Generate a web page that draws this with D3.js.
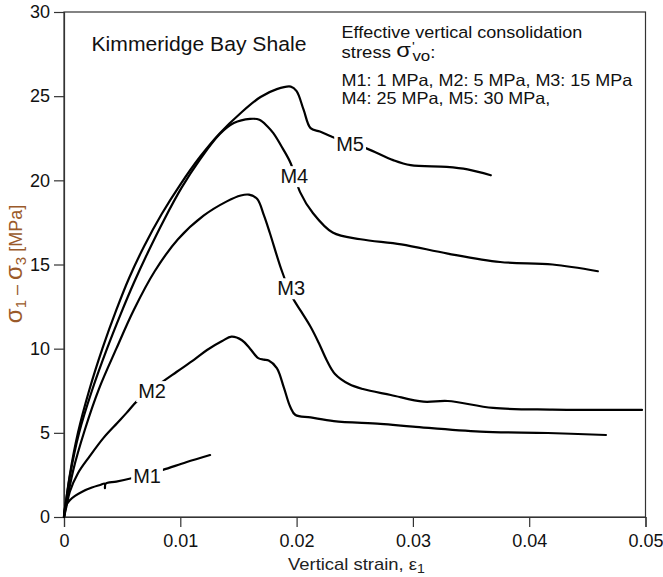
<!DOCTYPE html>
<html><head><meta charset="utf-8">
<script src="https://cdn.jsdelivr.net/npm/d3@7"></script>
<style>
body{margin:0;background:#fff}
text{font-family:"Liberation Sans",Arial,Helvetica,sans-serif}
</style>
</head><body>
<svg id="c" width="663" height="577"></svg>
<script>
// ---- data ----
const xTicks = [0, 0.01, 0.02, 0.03, 0.04, 0.05];
const xTickLabels = ["0", "0.01", "0.02", "0.03", "0.04", "0.05"];
const yTicks = [0, 5, 10, 15, 20, 25, 30];
const yTickLabels = ["0", "5", "10", "15", "20", "25", "30"];
const seriesNames = ["M1", "M2", "M3", "M4", "M5"];

const m1 = [[0,0],[0.0001,0.6],[0.0005,1.0],[0.00095,1.25],[0.0016,1.52],[0.0024,1.75],[0.0031,1.9],[0.0035,1.98],[0.00352,1.72],[0.00358,1.98],[0.0045,2.1],[0.0058,2.3],[0.0072,2.55],[0.0085,2.8],[0.0105,3.25],[0.01256,3.68]];
const m2 = [[0,0],[0.0002,0.6],[0.0005,1.5],[0.0012,2.6],[0.0022,3.6],[0.0034,4.7],[0.0046,5.6],[0.0054,6.2],[0.0063,6.9],[0.0078,7.7],[0.0097,8.63],[0.0112,9.35],[0.0123,9.92],[0.0136,10.45],[0.0144,10.71],[0.0153,10.5],[0.016,10.0],[0.0167,9.44],[0.0172,9.35],[0.0176,9.3],[0.0183,8.85],[0.0189,7.7],[0.01945,6.55],[0.0199,6.06],[0.0212,5.92],[0.0232,5.7],[0.0272,5.53],[0.030,5.37],[0.0358,5.07],[0.0416,4.99],[0.0466,4.87]];
const m3 = [[0,0],[0.0008,2.8],[0.0018,5.2],[0.003,7.6],[0.0045,10.0],[0.006,12.3],[0.0078,14.6],[0.0098,16.5],[0.012,17.9],[0.014,18.75],[0.0152,19.1],[0.0159,19.15],[0.0166,18.9],[0.0172,17.9],[0.0177,16.87],[0.0187,14.68],[0.0196,13.1],[0.0204,12.2],[0.0212,11.3],[0.0219,10.35],[0.0226,9.3],[0.0233,8.5],[0.0245,7.9],[0.0257,7.6],[0.0281,7.25],[0.0309,6.85],[0.033,6.89],[0.0369,6.48],[0.042,6.38],[0.0472,6.36],[0.0497,6.36]];
const m4 = [[0,0],[0.0005,2.4],[0.0013,5.0],[0.0024,7.5],[0.0037,10.0],[0.0049,12.1],[0.006,13.9],[0.0072,15.7],[0.0086,17.65],[0.0101,19.55],[0.0117,21.25],[0.0134,22.75],[0.0146,23.4],[0.016,23.65],[0.0168,23.6],[0.0175,23.2],[0.018,22.8],[0.0188,21.9],[0.0195,21.0],[0.0203,19.3],[0.0214,18.06],[0.0231,16.9],[0.0255,16.5],[0.029,16.2],[0.033,15.65],[0.0375,15.15],[0.042,15.0],[0.0459,14.6]];
const m5 = [[0,0],[0.0005,2.5],[0.0012,5.0],[0.0022,7.6],[0.0033,10.0],[0.0045,12.3],[0.0056,14.2],[0.0069,16.1],[0.0084,18.0],[0.01,19.75],[0.0117,21.4],[0.0134,22.8],[0.0152,24.0],[0.0169,24.95],[0.0183,25.42],[0.0195,25.57],[0.02,25.3],[0.0206,24.2],[0.0212,23.1],[0.022,22.9],[0.023,22.6],[0.0245,22.2],[0.026,21.9],[0.0283,21.2],[0.0298,20.9],[0.0329,20.8],[0.0347,20.65],[0.0367,20.3]];
const seriesData = [m1, m2, m3, m4, m5];
const labelPos = [[0.00714,2.44],[0.00757,7.49],[0.01953,13.6],[0.0198,20.26],[0.0246,22.16]];

const titleText = "Kimmeridge Bay Shale";
const legendLine1 = "Effective vertical consolidation";
const legendLine3 = "M1: 1 MPa, M2: 5 MPa, M3: 15 MPa";
const legendLine4 = "M4: 25 MPa, M5: 30 MPa,";

// ---- chart ----
const svg = d3.select("#c");
const x = d3.scaleLinear().domain([0, 0.05]).range([64, 645.5]);
const y = d3.scaleLinear().domain([0, 30]).range([517, 12]);

// frame
svg.append("rect").attr("x", x(0)).attr("y", y(30))
  .attr("width", x(0.05) - x(0)).attr("height", y(0) - y(30))
  .attr("fill", "none").attr("stroke", "#333").attr("stroke-width", 1.2);

const ax = svg.append("g").attr("transform", `translate(0,${y(0)})`)
  .call(d3.axisBottom(x).tickValues(xTicks).tickFormat((d,i)=>xTickLabels[i]).tickSize(10).tickPadding(7));
const ay = svg.append("g").attr("transform", `translate(${x(0)},0)`)
  .call(d3.axisLeft(y).tickValues(yTicks).tickFormat((d,i)=>yTickLabels[i]).tickSize(10).tickPadding(4));
[ax, ay].forEach(g => {
  g.select(".domain").attr("stroke", "#333").attr("stroke-width", 1.2);
  g.selectAll(".tick line").attr("stroke", "#333").attr("stroke-width", 1.2);
  g.selectAll(".tick text").attr("font-size", 18).attr("fill", "#111")
    .attr("font-family", '"Liberation Sans",Arial,sans-serif');
});

// curves
const line = d3.line().x(d => x(d[0])).y(d => y(d[1])).curve(d3.curveCatmullRom.alpha(0.5));
seriesData.forEach(s => {
  svg.append("path").datum(s).attr("d", line)
    .attr("fill", "none").attr("stroke", "#000").attr("stroke-width", 2.2)
    .attr("stroke-linejoin", "round").attr("stroke-linecap", "round");
});

// curve labels with white background
seriesNames.forEach((n, i) => {
  const g = svg.append("g");
  const t = g.append("text").attr("x", x(labelPos[i][0])).attr("y", y(labelPos[i][1]))
    .attr("text-anchor", "middle").attr("dy", "0.36em")
    .attr("font-size", 20).attr("fill", "#111").text(n);
  const b = t.node().getBBox();
  g.insert("rect", "text").attr("x", b.x - 2).attr("y", b.y + 1)
    .attr("width", b.width + 4).attr("height", b.height - 1).attr("fill", "#fff");
});

// helper to fit text width
function fitWidth(sel, w) {
  const nw = sel.node().getBBox().width;
  sel.attr("transform", `translate(${sel.attr("x") * (1 - w / nw)},0) scale(${w / nw},1)`);
}

// title
const title = svg.append("text").attr("x", 91.5).attr("y", 51.5).attr("font-size", 19.5)
  .attr("fill", "#111").text(titleText);
fitWidth(title, 215);

// legend
const l1 = svg.append("text").attr("x", 341.5).attr("y", 38).attr("font-size", 16.5).attr("fill", "#111").text(legendLine1);
fitWidth(l1, 241);
const l2 = svg.append("text").attr("x", 341.5).attr("y", 58).attr("font-size", 16.5).attr("fill", "#111");
l2.append("tspan").text("stress ");
l2.append("tspan").attr("font-size", 21).attr("dy", -1).text("σ");
l2.append("tspan").attr("font-size", 13).attr("dx", 1).attr("dy", -6).text("'");
l2.append("tspan").attr("font-size", 15).attr("dx", -2).attr("dy", 10).text("vo");
l2.append("tspan").attr("dy", -3).text(":");
fitWidth(l2, 94);
const l3 = svg.append("text").attr("x", 341.5).attr("y", 86.5).attr("font-size", 16.5).attr("fill", "#111").text(legendLine3);
fitWidth(l3, 292);
const l4 = svg.append("text").attr("x", 341.5).attr("y", 104.5).attr("font-size", 16.5).attr("fill", "#111").text(legendLine4);
fitWidth(l4, 209);

// x axis title
const xt = svg.append("text").attr("x", 288).attr("y", 570).attr("font-size", 17).attr("fill", "#222");
xt.append("tspan").text("Vertical strain, ε");
xt.append("tspan").attr("font-size", 13).attr("dy", 3).text("1");
fitWidth(xt, 137);

// y axis title
const ytG = svg.append("g").attr("transform", "translate(22,264) rotate(-90)");
const yt = ytG.append("text").attr("text-anchor", "middle").attr("font-size", 18).attr("fill", "#9a5a2a");
yt.append("tspan").attr("font-size", 24).text("σ");
yt.append("tspan").attr("font-size", 15).attr("dy", 4).text("1");
yt.append("tspan").attr("dy", -4).text(" – ");
yt.append("tspan").attr("font-size", 24).text("σ");
yt.append("tspan").attr("font-size", 15).attr("dy", 4).text("3");
yt.append("tspan").attr("dy", -4).text("  [MPa]");
</script>
</body></html>
